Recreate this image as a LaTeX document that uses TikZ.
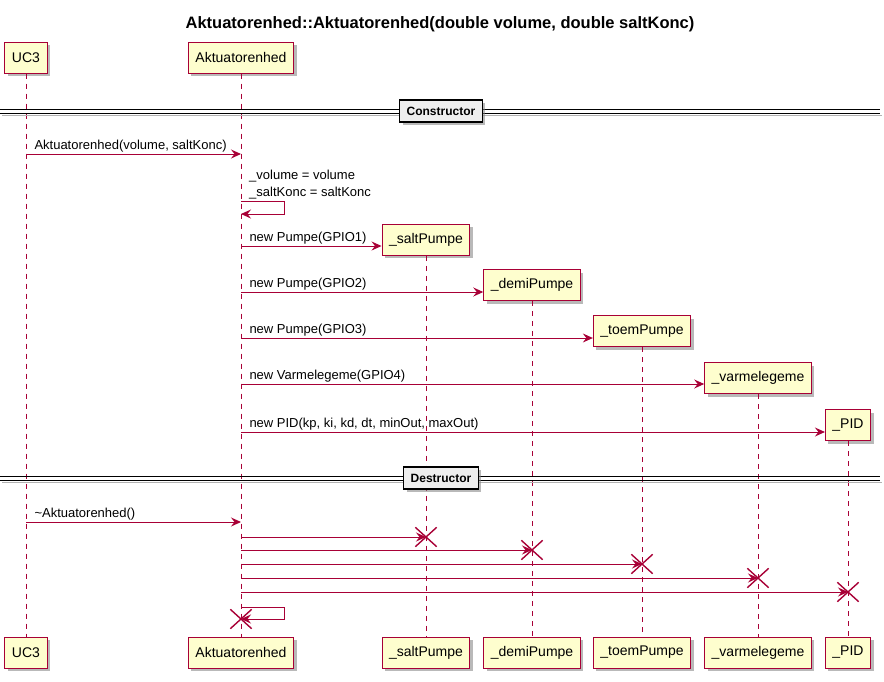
\documentclass[tikz,border=0pt]{standalone}
\usepackage{fontspec}
\setmainfont{Liberation Sans}
\usetikzlibrary{
	arrows.meta,
	calc,
	shapes.misc,
	shadows
}
\definecolor{UmlRed}{HTML}{A80036}
\definecolor{UmlYellow}{HTML}{FEFECE}
\definecolor{DivGray}{HTML}{EEEEEE}

\begin{document}
\begin{tikzpicture}[x=1pt, y=-1pt,
		part/.style={draw=UmlRed, fill=UmlYellow, line width=1pt, inner xsep=7pt, inner ysep=0pt,
			minimum height=31pt, font=\fontsize{14}{16}\selectfont,
			drop shadow={shadow xshift=3pt, shadow yshift=-3pt, fill=gray, opacity=0.55}},
		life/.style={UmlRed, line width=0.8pt, dash pattern=on 5pt off 5pt},
		msg/.style={UmlRed, line width=1pt, -{Stealth[length=10pt, width=9pt, inset=3.5pt]}},
		lbl/.style={anchor=base west, xshift=8pt, yshift=5pt, inner sep=0pt, text=black,
			font=\fontsize{13}{15}\selectfont},
		kill/.style={cross out, draw=UmlRed, line width=1.4pt, minimum width=20pt, minimum height=18pt, inner sep=0pt},
		sepbox/.style={draw=black, fill=DivGray, line width=1.4pt, minimum height=22pt, inner xsep=7pt,
			font=\bfseries\fontsize{12}{14}\selectfont,
			drop shadow={shadow xshift=3pt, shadow yshift=-3pt, fill=gray, opacity=0.55}}]
		\useasboundingbox (0,0) rectangle (884,681);
		
		\node[font=\bfseries\fontsize{16.5}{19}\selectfont] (title) at (440,24)
			{Aktuatorenhed::Aktuatorenhed(double volume, double saltKonc)};
		
		% deltagere
		\node[part] (uc3top) at (26,57.5) {UC3};
		\node[part] (akttop) at (241,57.5) {Aktuatorenhed};
		\node[part] (salttop) at (426,239.5) {\_saltPumpe};
		\node[part] (demitop) at (532,285) {\_demiPumpe};
		\node[part] (toemtop) at (642,331) {\_toemPumpe};
		\node[part] (varmetop) at (758,378) {\_varmelegeme};
		\node[part] (pidtop) at (848,425) {\_PID};
		
		\node[part] (uc3bot) at (26,652.5) {UC3};
		\node[part] (aktbot) at (241,652.5) {Aktuatorenhed};
		\node[part] (saltbot) at (426,652.5) {\_saltPumpe};
		\node[part] (demibot) at (532,652.5) {\_demiPumpe};
		\node[part] (toembot) at (642,652.5) {\_toemPumpe};
		\node[part] (varmebot) at (758,652.5) {\_varmelegeme};
		\node[part] (pidbot) at (848,652.5) {\_PID};
		
		\draw[life] (uc3top.south) -- (uc3bot.north);
		\draw[life] (akttop.south) -- (aktbot.north);
		\draw[life] (salttop.south) -- (saltbot.north);
		\draw[life] (demitop.south) -- (demibot.north);
		\draw[life] (toemtop.south) -- (toembot.north);
		\draw[life] (varmetop.south) -- (varmebot.north);
		\draw[life] (pidtop.south) -- (pidbot.north);
		
		% skillelinjer
		\draw[gray!60, line width=1.2pt] (2,115.5) -- (882,115.5);
		\draw[black, line width=1pt] (0,109) -- (880,109);
		\draw[black, line width=1pt] (0,113) -- (880,113);
		\node[sepbox] (ctor) at (441,111) {Constructor};
		
		\draw[gray!60, line width=1.2pt] (2,482.5) -- (882,482.5);
		\draw[black, line width=1pt] (0,476) -- (880,476);
		\draw[black, line width=1pt] (0,480) -- (880,480);
		\node[sepbox] (dtor) at (441,478) {Destructor};
		
		\coordinate (m1) at (0,154);
		\coordinate (s1) at (0,201);
		\coordinate (s2) at (0,214);
		\coordinate (c1) at (0,246);
		\coordinate (c2) at (0,292);
		\coordinate (c3) at (0,338);
		\coordinate (c4) at (0,384);
		\coordinate (c5) at (0,432);
		\coordinate (d0) at (0,522);
		\coordinate (d1) at (0,537);
		\coordinate (d2) at (0,550);
		\coordinate (d3) at (0,564);
		\coordinate (d4) at (0,578);
		\coordinate (d5) at (0,592);
		\coordinate (k1) at (0,607);
		\coordinate (k2) at (0,619);
		
		% constructor
		\draw[msg] (uc3top |- m1) -- node[lbl, pos=0] {Aktuatorenhed(volume, saltKonc)} (akttop |- m1);
		\node[anchor=north west, inner sep=0pt, align=left, font=\fontsize{13}{17}\selectfont] (assign)
			at ($(akttop |- s1)+(8,-31)$) {\_volume = volume\\\_saltKonc = saltKonc};
		\draw[msg] (akttop |- s1) -- ++(43,0) -- ++(0,13) -- (akttop |- s2);
		\draw[msg] (akttop |- c1) -- node[lbl, pos=0] {new Pumpe(GPIO1)} (salttop.west |- c1);
		\draw[msg] (akttop |- c2) -- node[lbl, pos=0] {new Pumpe(GPIO2)} (demitop.west |- c2);
		\draw[msg] (akttop |- c3) -- node[lbl, pos=0] {new Pumpe(GPIO3)} (toemtop.west |- c3);
		\draw[msg] (akttop |- c4) -- node[lbl, pos=0] {new Varmelegeme(GPIO4)} (varmetop.west |- c4);
		\draw[msg] (akttop |- c5) -- node[lbl, pos=0] {new PID(kp, ki, kd, dt, minOut, maxOut)} (pidtop.west |- c5);
		
		% destructor
		\draw[msg] (uc3top |- d0) -- node[lbl, pos=0] {\textasciitilde Aktuatorenhed()} (akttop |- d0);
		\node[kill] (xsalt) at (saltbot |- d1) {};
		\node[kill] (xdemi) at (demibot |- d2) {};
		\node[kill] (xtoem) at (toembot |- d3) {};
		\node[kill] (xvarme) at (varmebot |- d4) {};
		\node[kill] (xpid) at (pidbot |- d5) {};
		\node[kill] (xakt) at (aktbot |- k2) {};
		\draw[msg] (akttop |- d1) -- (xsalt.center);
		\draw[msg] (akttop |- d2) -- (xdemi.center);
		\draw[msg] (akttop |- d3) -- (xtoem.center);
		\draw[msg] (akttop |- d4) -- (xvarme.center);
		\draw[msg] (akttop |- d5) -- (xpid.center);
		\draw[msg] (akttop |- k1) -- ++(43,0) -- ++(0,12) -- (xakt.center);
	\end{tikzpicture}
\end{document}
